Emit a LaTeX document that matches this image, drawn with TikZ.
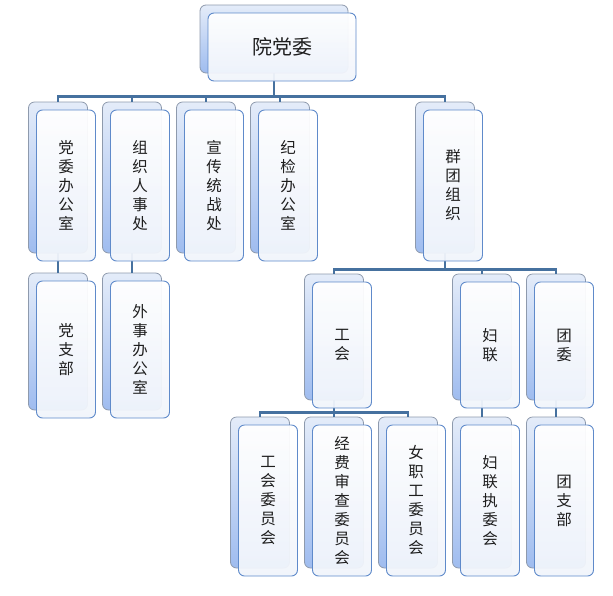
\documentclass[tikz,border=0pt]{standalone}
\usepackage{fontspec}
\setmainfont{Noto Sans CJK SC}
\usetikzlibrary{calc}

\definecolor{backline}{HTML}{8E9AAD}
\definecolor{backtop}{HTML}{E4ECF9}
\definecolor{backbot}{HTML}{9FBCEF}
\definecolor{frontline}{HTML}{5F8ACA}
\definecolor{frontbot}{HTML}{F0F4FB}
\definecolor{connline}{HTML}{46719F}
\definecolor{textcol}{HTML}{1E1E1E}

\tikzset{
	backbox/.style={draw=backline, line width=0.8pt, rounded corners=6pt, top color=backtop, bottom color=backbot, inner sep=0pt},
	frontbox/.style={draw=frontline, line width=0.9pt, rounded corners=6pt, top color=white, bottom color=frontbot, fill opacity=0.95, text opacity=1, text=textcol, align=center, inner sep=0pt, font=\fontsize{15.5}{19}\selectfont},
	conn/.style={draw=connline, line width=2.8pt},
	topsize/.style={minimum width=148pt, minimum height=68pt},
	tallsize/.style={minimum width=59pt, minimum height=151pt},
	midsize/.style={minimum width=59pt, minimum height=137pt},
	shortsize/.style={minimum width=59pt, minimum height=126pt},
}

\begin{document}
\begin{tikzpicture}[x=1pt, y=-1pt]
			\useasboundingbox (0, 0) rectangle (613, 595);

			% back boxes
			\node[backbox, topsize] (root) at (274, 39) {};
			\node[backbox, tallsize] (dwb) at (58, 177.5) {};
			\node[backbox, tallsize] (zzrs) at (132, 177.5) {};
			\node[backbox, tallsize] (xczb) at (206, 177.5) {};
			\node[backbox, tallsize] (jjb) at (280, 177.5) {};
			\node[backbox, tallsize] (qtzz) at (445, 177.5) {};
			\node[backbox, midsize] (dzb) at (58, 341.5) {};
			\node[backbox, midsize] (wsb) at (132, 341.5) {};
			\node[backbox, shortsize] (gh) at (334, 337) {};
			\node[backbox, shortsize] (fl) at (482, 337) {};
			\node[backbox, shortsize] (tw) at (556, 337) {};
			\node[backbox, tallsize] (ghwy) at (260, 492.5) {};
			\node[backbox, tallsize] (jfsc) at (334, 492.5) {};
			\node[backbox, tallsize] (nzg) at (408, 492.5) {};
			\node[backbox, tallsize] (fljw) at (482, 492.5) {};
			\node[backbox, tallsize] (tzb) at (556, 492.5) {};

			% connectors
			\draw[conn] (root.south) -- ++(0, 23) -| (dwb.north);
			\draw[conn] (root.south) -- ++(0, 23) -| (zzrs.north);
			\draw[conn] (root.south) -- ++(0, 23) -| (xczb.north);
			\draw[conn] (root.south) -- ++(0, 23) -| (jjb.north);
			\draw[conn] (root.south) -- ++(0, 23) -| (qtzz.north);
			\draw[conn] (dwb.south) -- (dzb.north);
			\draw[conn] (zzrs.south) -- (wsb.north);
			\draw[conn] (qtzz.south) -- ++(0, 16) -| (gh.north);
			\draw[conn] (qtzz.south) -- ++(0, 16) -| (fl.north);
			\draw[conn] (qtzz.south) -- ++(0, 16) -| (tw.north);
			\draw[conn] (gh.south) -- ++(0, 12) -| (ghwy.north);
			\draw[conn] (gh.south) -- ++(0, 12) -| (jfsc.north);
			\draw[conn] (gh.south) -- ++(0, 12) -| (nzg.north);
			\draw[conn] (fl.south) -- (fljw.north);
			\draw[conn] (tw.south) -- (tzb.north);

			% front boxes
			\node[frontbox, topsize, font=\fontsize{20}{24}\selectfont] (rootf) at ($(root)+(8, 8)$) {院党委};
			\node[frontbox, tallsize] (dwbf) at ($(dwb)+(8, 8)$) {党\\委\\办\\公\\室};
			\node[frontbox, tallsize] (zzrsf) at ($(zzrs)+(8, 8)$) {组\\织\\人\\事\\处};
			\node[frontbox, tallsize] (xczbf) at ($(xczb)+(8, 8)$) {宣\\传\\统\\战\\处};
			\node[frontbox, tallsize] (jjbf) at ($(jjb)+(8, 8)$) {纪\\检\\办\\公\\室};
			\node[frontbox, tallsize] (qtzzf) at ($(qtzz)+(8, 8)$) {群\\团\\组\\织};
			\node[frontbox, midsize] (dzbf) at ($(dzb)+(8, 8)$) {党\\支\\部};
			\node[frontbox, midsize] (wsbf) at ($(wsb)+(8, 8)$) {外\\事\\办\\公\\室};
			\node[frontbox, shortsize] (ghf) at ($(gh)+(8, 8)$) {工\\会};
			\node[frontbox, shortsize] (flf) at ($(fl)+(8, 8)$) {妇\\联};
			\node[frontbox, shortsize] (twf) at ($(tw)+(8, 8)$) {团\\委};
			\node[frontbox, tallsize] (ghwyf) at ($(ghwy)+(8, 8)$) {工\\会\\委\\员\\会};
			\node[frontbox, tallsize] (jfscf) at ($(jfsc)+(8, 8)$) {经\\费\\审\\查\\委\\员\\会};
			\node[frontbox, tallsize] (nzgf) at ($(nzg)+(8, 8)$) {女\\职\\工\\委\\员\\会};
			\node[frontbox, tallsize] (fljwf) at ($(fljw)+(8, 8)$) {妇\\联\\执\\委\\会};
			\node[frontbox, tallsize] (tzbf) at ($(tzb)+(8, 8)$) {团\\支\\部};

		\end{tikzpicture}
\end{document}
